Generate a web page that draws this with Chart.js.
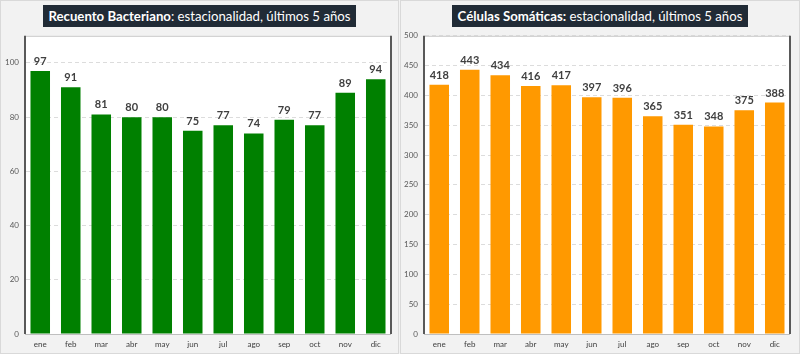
<!DOCTYPE html>
<html lang="es">
<head>
<meta charset="utf-8">
<title>Estacionalidad, últimos 5 años</title>
<script src="https://cdn.jsdelivr.net/npm/chart.js@4/dist/chart.umd.min.js"></script>
<style>
  html, body { margin: 0; padding: 0; background: #f2f2f2; }
  body { width: 800px; height: 354px; position: relative; overflow: hidden; font-family: Lato, "Open Sans", sans-serif; }
  .panel { position: absolute; top: 0; height: 352px; background: #f2f2f2; border: 1px solid #d9d9d9; }
  .panel canvas { position: absolute; top: 24px; left: 0; }
  .title {
    position: absolute; top: 4px; left: 0; right: 0; text-align: center;
  }
  .title span.box {
    display: inline-block; background: #212b36; color: #fff;
    font-size: 13.2px; line-height: 22px; padding: 0 6px; white-space: nowrap;
  }
  .title b { font-weight: 700; }
</style>
</head>
<body>
<div class="panel" id="p1" style="left:0; width:397px;">
  <div class="title"><span class="box"><b>Recuento Bacteriano</b>: estacionalidad, últimos 5 años</span></div>
  <canvas id="c1" width="397" height="329"></canvas>
</div>
<div class="panel" id="p2" style="left:400px; width:398px;">
  <div class="title"><span class="box"><b>Células Somáticas:</b> estacionalidad, últimos 5 años</span></div>
  <canvas id="c2" width="398" height="329"></canvas>
</div>
<script>
"use strict";

const months = ["ene", "feb", "mar", "abr", "may", "jun", "jul", "ago", "sep", "oct", "nov", "dic"];
const bacterias = [97, 91, 81, 80, 80, 75, 77, 74, 79, 77, 89, 94];
const celulas = [418, 443, 434, 416, 417, 397, 396, 365, 351, 348, 375, 388];
const bacteriasTicks = [0, 20, 40, 60, 80, 100];
const celulasTicks = [0, 50, 100, 150, 200, 250, 300, 350, 400, 450, 500];

// white plot area + frame like the Excel original
const plotFrame = {
  id: "plotFrame",
  beforeDraw(chart) {
    const { ctx, chartArea: a } = chart;
    ctx.save();
    ctx.fillStyle = "#ffffff";
    ctx.fillRect(a.left, a.top, a.right - a.left, a.bottom - a.top);
    ctx.restore();
  },
  afterDatasetsDraw(chart) {
    const { ctx, chartArea: a } = chart;
    ctx.save();
    ctx.lineWidth = 1;
    ctx.strokeStyle = "#c8c8c8";
    ctx.beginPath();
    ctx.moveTo(a.left, a.top + 0.5);
    ctx.lineTo(a.right, a.top + 0.5);
    ctx.stroke();
    ctx.strokeStyle = "#595959";
    ctx.lineWidth = 2;
    ctx.beginPath();
    ctx.moveTo(a.left, a.top);
    ctx.lineTo(a.left, a.bottom);
    ctx.moveTo(a.right, a.top);
    ctx.lineTo(a.right, a.bottom);
    ctx.stroke();
    ctx.lineWidth = 1;
    ctx.strokeStyle = "#bfbfbf";
    ctx.beginPath();
    ctx.moveTo(a.left, a.bottom + 0.5);
    ctx.lineTo(a.right, a.bottom + 0.5);
    ctx.stroke();
    ctx.restore();
  },
};

const valueLabels = {
  id: "valueLabels",
  afterDatasetsDraw(chart) {
    const { ctx } = chart;
    const meta = chart.getDatasetMeta(0);
    const values = chart.data.datasets[0].data;
    ctx.save();
    ctx.font = "bold 11px Lato, 'Open Sans', sans-serif";
    ctx.fillStyle = "#404040";
    ctx.textAlign = "center";
    ctx.textBaseline = "bottom";
    meta.data.forEach((bar, i) => ctx.fillText(String(values[i]), bar.x, bar.y - 4));
    ctx.restore();
  },
};

function makeChart(id, values, color, yMax, ticks, yWidth, padRight) {
  return new Chart(document.getElementById(id), {
    type: "bar",
    data: {
      labels: months,
      datasets: [{
        data: values,
        backgroundColor: color,
        borderWidth: 0,
        categoryPercentage: 1,
        barPercentage: 0.64,
      }],
    },
    options: {
      responsive: false,
      animation: false,
      layout: { padding: { top: 4, right: padRight, bottom: 0, left: 0 } },
      plugins: { legend: { display: false }, tooltip: { enabled: false } },
      scales: {
        x: {
          grid: { display: false },
          border: { display: false },
          ticks: { color: "#404040", font: { size: 8, family: "Lato" }, padding: -2 },
          afterFit(s) { s.height = 20; },
        },
        y: {
          min: 0,
          max: yMax,
          afterBuildTicks(s) { s.ticks = ticks.map((v) => ({ value: v })); },
          grid: { color: "#dcdcdc", drawTicks: false },
          border: { display: true, color: "rgba(0,0,0,0)", dash: [4, 3] },
          ticks: { color: "#595959", font: { size: 8, family: "Lato" }, padding: 6 },
          afterFit(s) { s.width = yWidth; },
        },
      },
    },
    plugins: [plotFrame, valueLabels],
  });
}

makeChart("c1", bacterias, "#008000", 110, bacteriasTicks, 24, 7);
makeChart("c2", celulas, "#ff9900", 500, celulasTicks, 23, 9);
</script>
</body>
</html>
